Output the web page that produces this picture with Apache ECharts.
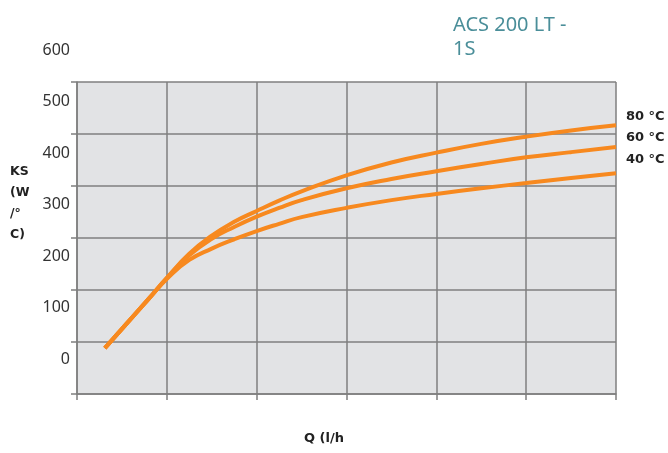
<!DOCTYPE html>
<html><head><meta charset="utf-8">
<script src="https://cdn.jsdelivr.net/npm/echarts@6/dist/echarts.min.js"></script>
<style>html,body{margin:0;padding:0;background:#fff}#c{width:668px;height:453px}</style>
</head><body><div id="c"></div>
<script>
// Q (l/h) positions (relative scale), KS values (W/°C)
const qValues = [31, 55, 80, 101, 125, 150, 175, 200, 225, 250, 300, 350, 400, 450, 500, 550, 600];
const ks80    = [22, 69, 118, 160, 205, 240, 267, 288, 308, 326, 357, 382, 401, 418, 432, 444, 454];
const ks60    = [22, 69, 118, 160, 202, 234, 257, 277, 294, 309, 332, 350, 365, 379, 392, 402, 412];
const ks40    = [22, 69, 118, 158, 193, 215, 233, 249, 263, 276, 294, 309, 321, 332, 342, 352, 361];
const seriesNames = ['80 °C', '60 °C', '40 °C'];
const yTicks = [0, 100, 200, 300, 400, 500, 600];
const titleText = 'ACS 200 LT -\n1S';
const yTitle = 'KS\n(W\n/°\nC)';
const xTitle = 'Q (l/h';

const chart = echarts.init(document.getElementById('c'), null, {renderer: 'canvas'});
const mk = arr => qValues.map((q, i) => [q, arr[i]]);
const lineStyle = {color: '#f7891f', width: 4};
const gridColor = '#7f7f7f';
chart.setOption({
  animation: false,
  backgroundColor: '#ffffff',
  title: {
    text: titleText, left: 448, top: 8,
    textStyle: {color: '#4a8e99', fontSize: 20, fontWeight: 'normal', fontFamily: 'Noto Sans', lineHeight: 24}
  },
  grid: [
    {left: 77, right: 52, top: 82, bottom: 59, show: true, backgroundColor: '#e2e3e5', borderWidth: 0},
    {left: 77, right: 52, top: 50, bottom: 93.5, show: false}
  ],
  xAxis: [
    {gridIndex: 0, type: 'value', min: 0, max: 600, interval: 100,
     axisLine: {show: true, lineStyle: {color: gridColor, width: 1.5}},
     axisTick: {show: true, length: 6, lineStyle: {color: gridColor, width: 1.5}},
     axisLabel: {show: false},
     splitLine: {show: true, lineStyle: {color: gridColor, width: 1.5}}},
    {gridIndex: 1, type: 'value', min: 0, max: 600, show: false}
  ],
  yAxis: [
    {gridIndex: 0, type: 'value', min: 0, max: 6, interval: 1,
     axisLine: {show: true, lineStyle: {color: gridColor, width: 1.5}},
     axisTick: {show: true, length: 6, lineStyle: {color: gridColor, width: 1.5}},
     axisLabel: {show: false},
     splitLine: {show: true, lineStyle: {color: gridColor, width: 1.5}}},
    {gridIndex: 1, type: 'value', min: yTicks[0], max: yTicks[yTicks.length-1], interval: 100,
     axisLine: {show: false}, axisTick: {show: false}, splitLine: {show: false},
     axisLabel: {show: true, margin: 7, color: '#333', fontSize: 16, fontFamily: 'Noto Sans'}}
  ],
  graphic: [
    {type: 'text', left: 10, top: 161, style: {text: yTitle, fill: '#222', font: 'bold 12.5px "DejaVu Sans"', lineHeight: 21}},
    {type: 'text', left: 304, top: 432, style: {text: xTitle, fill: '#222', font: 'bold 13px "DejaVu Sans"'}},
    {type: 'text', left: 626, top: 110, style: {text: seriesNames[0], fill: '#222', font: 'bold 13px "DejaVu Sans"'}},
    {type: 'text', left: 626, top: 131, style: {text: seriesNames[1], fill: '#222', font: 'bold 13px "DejaVu Sans"'}},
    {type: 'text', left: 626, top: 153, style: {text: seriesNames[2], fill: '#222', font: 'bold 13px "DejaVu Sans"'}}
  ],
  series: [
    {name: seriesNames[0], type: 'line', xAxisIndex: 1, yAxisIndex: 1, data: mk(ks80), smooth: 0.5, showSymbol: false, lineStyle, z: 3},
    {name: seriesNames[1], type: 'line', xAxisIndex: 1, yAxisIndex: 1, data: mk(ks60), smooth: 0.5, showSymbol: false, lineStyle, z: 3},
    {name: seriesNames[2], type: 'line', xAxisIndex: 1, yAxisIndex: 1, data: mk(ks40), smooth: 0.5, showSymbol: false, lineStyle, z: 3}
  ]
});
</script></body></html>
